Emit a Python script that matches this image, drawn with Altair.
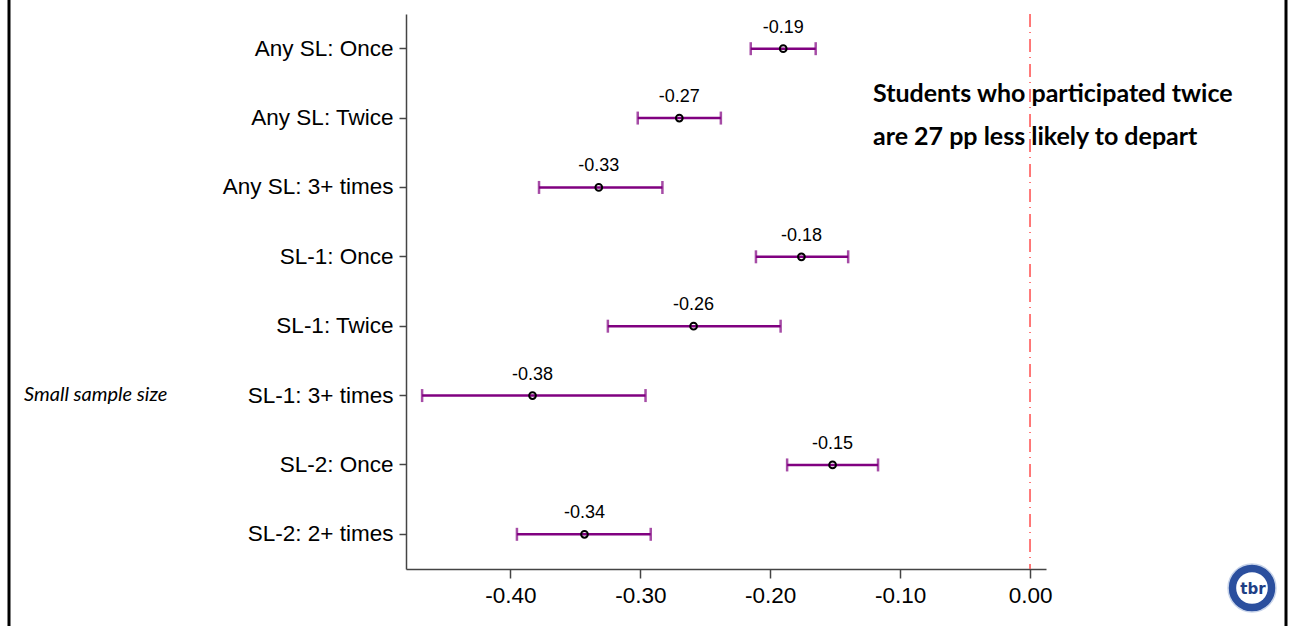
import altair as alt
import pandas as pd

categories = ["Any SL: Once", "Any SL: Twice", "Any SL: 3+ times", "SL-1: Once",
              "SL-1: Twice", "SL-1: 3+ times", "SL-2: Once", "SL-2: 2+ times"]
estimates = [-0.190, -0.270, -0.332, -0.176, -0.259, -0.383, -0.152, -0.343]
ci_low = [-0.215, -0.302, -0.378, -0.211, -0.325, -0.468, -0.187, -0.395]
ci_high = [-0.165, -0.238, -0.283, -0.140, -0.192, -0.296, -0.117, -0.292]
labels = ["-0.19", "-0.27", "-0.33", "-0.18", "-0.26", "-0.38", "-0.15", "-0.34"]
x_ticks = [-0.40, -0.30, -0.20, -0.10, 0.00]
annotation_1 = "Students who participated twice"
annotation_2 = "are 27 pp less likely to depart"
side_note = "Small sample size"

df = pd.DataFrame({"cat": categories, "est": estimates, "lo": ci_low,
                   "hi": ci_high, "lab": labels})

W, H = 640, 555
LEFT, TOP = 406, 14
FONT = "Liberation Sans"

xscale = alt.Scale(domain=[-0.4804, 0.0123], nice=False, zero=False)
yscale = alt.Scale(domain=categories, paddingInner=0, paddingOuter=0)

xaxis = alt.Axis(values=x_ticks, grid=False, labelFontSize=22.5, labelFont=FONT,
                 labelColor="#000", tickSize=9, tickColor="#444", domainColor="#444",
                 domainWidth=1.5, tickWidth=1.5, labelPadding=6,
                 labelExpr="replace(format(datum.value, '.2f'), '\u2212', '-')")
yaxis = alt.Axis(labelFontSize=22.5, labelFont=FONT, labelColor="#000",
                 tickSize=7, tickColor="#444", domainColor="#444",
                 domainWidth=1.5, tickWidth=1.5, labelPadding=6, grid=False)

Y = alt.Y("cat:N", scale=yscale, sort=categories, title=None, axis=yaxis)

base = alt.Chart(df)

zero_line = alt.Chart(pd.DataFrame({"z": [0.0]})).mark_rule(
    color="#ff4d4d", strokeWidth=1.5, strokeDash=[13, 5, 1, 6]
).encode(x=alt.X("z:Q", scale=xscale, title=None, axis=xaxis))

bars = base.mark_rule(color="#800080", strokeWidth=2.5).encode(
    x=alt.X("lo:Q", scale=xscale, title=None, axis=xaxis), x2="hi:Q", y=Y)

cap_lo = base.mark_tick(color="#800080", thickness=2.5, size=13, orient="vertical").encode(
    x=alt.X("lo:Q", scale=xscale, title=None, axis=xaxis), y=Y)
cap_hi = base.mark_tick(color="#800080", thickness=2.5, size=13, orient="vertical").encode(
    x=alt.X("hi:Q", scale=xscale, title=None, axis=xaxis), y=Y)

points = base.mark_point(shape="circle", size=45, color="#000", strokeWidth=2,
                         filled=False, opacity=1).encode(
    x=alt.X("est:Q", scale=xscale, title=None, axis=xaxis), y=Y)

texts = base.mark_text(dy=-21, fontSize=18, font=FONT, color="#000").encode(
    x=alt.X("est:Q", scale=xscale, title=None, axis=xaxis), y=Y, text="lab:N")

one = pd.DataFrame({"b": [0]})

ann1 = alt.Chart(one).mark_text(align="left", baseline="middle", font="Lato",
                                fontWeight="bold", fontSize=25, color="#000").encode(
    x=alt.value(873 - LEFT), y=alt.value(94 - TOP), text=alt.value(annotation_1))
ann2 = alt.Chart(one).mark_text(align="left", baseline="middle", font="Lato",
                                fontWeight="bold", fontSize=25, color="#000").encode(
    x=alt.value(873 - LEFT), y=alt.value(137 - TOP), text=alt.value(annotation_2))

note = alt.Chart(one).mark_text(
    align="left", baseline="middle", font="Lato", fontStyle="italic", fontSize=20,
    color="#000").encode(x=alt.value(24 - LEFT), y=alt.value(395 - TOP),
                         text=alt.value(side_note))

border_l = alt.Chart(one).mark_rule(color="#000", strokeWidth=3).encode(
    x=alt.value(9 - LEFT), y=alt.value(-TOP), y2=alt.value(626 - TOP))
border_r = alt.Chart(one).mark_rule(color="#000", strokeWidth=3).encode(
    x=alt.value(1286 - LEFT), y=alt.value(-TOP), y2=alt.value(626 - TOP))

LX, LY = 1252 - LEFT, 588 - TOP
logo_outer = alt.Chart(one).mark_point(shape="circle", filled=True, size=2300,
                                       color="#2b4f9e", opacity=1, stroke="#c8d4ea",
                                       strokeWidth=1.5).encode(
    x=alt.value(LX), y=alt.value(LY))
logo_inner = alt.Chart(one).mark_point(shape="circle", filled=True, size=1000,
                                       color="#ffffff", opacity=1).encode(
    x=alt.value(LX), y=alt.value(LY))
logo_text = alt.Chart(one).mark_text(font="DejaVu Sans", fontWeight="bold",
                                     fontSize=15, color="#1f3f86",
                                     baseline="middle").encode(
    x=alt.value(LX + 1), y=alt.value(LY + 1), text=alt.value("tbr"))

chart = alt.layer(zero_line, bars, cap_lo, cap_hi, points, texts, ann1, ann2, note,
                  border_l, border_r, logo_outer, logo_inner, logo_text).properties(
    width=W, height=H,
    background="white",
    autosize=alt.AutoSizeParams(type="none"),
    padding={"left": LEFT, "top": TOP, "right": 1295 - LEFT - W, "bottom": 626 - TOP - H},
).configure_view(strokeWidth=0, stroke="transparent")

chart.save("out.html", embed_options={"renderer": "svg", "actions": False})
